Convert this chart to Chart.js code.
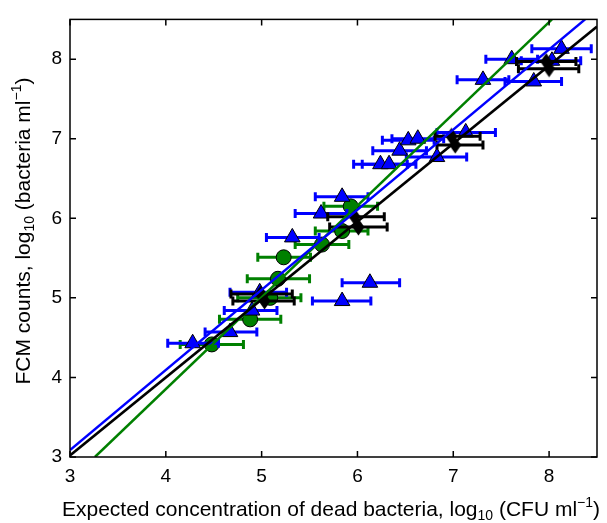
<!DOCTYPE html>
<html>
<head>
<meta charset="utf-8">
<script src="https://cdn.jsdelivr.net/npm/chart.js@4.4.1/dist/chart.umd.min.js"></script>
<style>
  html, body { margin: 0; padding: 0; background: #fff; }
  #wrap { width: 607px; height: 523px; }
</style>
</head>
<body>
<div id="wrap"><canvas id="fcmChart" width="607" height="523"></canvas></div>
<script>
// blue triangles
const blueX   = [4.28, 4.67, 4.90, 4.98, 5.32, 5.62, 5.84, 5.84, 6.13, 6.24, 6.33, 6.44, 6.53, 6.63, 6.83, 7.13, 7.31, 7.61, 7.84, 8.03, 8.13];
const blueY   = [4.43, 4.57, 4.84, 5.07, 5.76, 6.06, 6.27, 4.96, 5.19, 6.68, 6.68, 6.85, 6.98, 7.00, 6.77, 7.08, 7.74, 8.00, 7.72, 7.98, 8.13];
const blueLo  = [4.02, 4.41, 4.61, 4.67, 5.05, 5.35, 5.56, 5.53, 5.84, 5.96, 6.05, 6.16, 6.26, 6.36, 6.51, 6.83, 7.04, 7.34, 7.54, 7.71, 7.82];
const blueHi  = [4.55, 4.95, 5.16, 5.26, 5.60, 5.89, 6.11, 6.14, 6.44, 6.52, 6.61, 6.72, 6.80, 6.90, 7.14, 7.44, 7.58, 7.88, 8.13, 8.33, 8.44];

// green circles
const greenX  = [4.48, 4.88, 5.09, 5.17, 5.23, 5.63, 5.84, 5.93];
const greenY  = [4.415, 4.73, 5.00, 5.24, 5.51, 5.67, 5.84, 6.15];
const greenLo = [4.15, 4.56, 4.75, 4.85, 4.96, 5.35, 5.56, 5.65];
const greenHi = [4.81, 5.20, 5.41, 5.50, 5.51, 5.91, 6.11, 6.21];

// black diamonds
const blackX  = [4.99, 5.03, 5.97, 6.01, 6.98, 7.02, 7.97, 8.00];
const blackY  = [5.05, 4.96, 6.02, 5.89, 7.03, 6.92, 7.97, 7.88];
const blackLo = [4.68, 4.70, 5.69, 5.71, 6.81, 6.83, 7.66, 7.68];
const blackHi = [5.32, 5.34, 6.28, 6.31, 7.28, 7.31, 8.28, 8.31];

// fitted lines (end points)
const blackFitX = [3, 8.5],   blackFitY = [3.02, 8.41];
const blueFitX  = [3, 8.376], blueFitY  = [3.087, 8.5];
const greenFitX = [3.26, 8.03], greenFitY = [3.0, 8.5];

const tickVals = [3, 4, 5, 6, 7, 8];

const BLUE = '#0000ff';
const GREEN = '#008000';
const BLACK = '#000000';
const FONT = 'Liberation Sans, Arial, Helvetica, sans-serif';

function pts(xs, ys, lo, hi) {
  return xs.map((x, i) => ({ x: x, y: ys[i], xMin: lo ? lo[i] : null, xMax: hi ? hi[i] : null }));
}

// thin diamond marker (narrower than tall)
function thinDiamond() {
  const c = document.createElement('canvas');
  c.width = 13; c.height = 18;
  const g = c.getContext('2d');
  g.fillStyle = BLACK;
  g.beginPath();
  g.moveTo(6.5, 0.5); g.lineTo(12.5, 9); g.lineTo(6.5, 17.5); g.lineTo(0.5, 9);
  g.closePath();
  g.fill();
  return c;
}

// horizontal error bars, drawn just before each dataset's markers
const errorBars = {
  id: 'errorBars',
  beforeDatasetDraw(chart, args) {
    const ds = chart.data.datasets[args.index];
    if (!ds.errColor) return;
    const ctx = chart.ctx;
    const xs = chart.scales.x, ys = chart.scales.y;
    ctx.save();
    ctx.strokeStyle = ds.errColor;
    ctx.lineWidth = 3;
    ds.data.forEach(p => {
      const y = ys.getPixelForValue(p.y);
      const x0 = xs.getPixelForValue(p.xMin);
      const x1 = xs.getPixelForValue(p.xMax);
      ctx.beginPath();
      ctx.moveTo(x0, y); ctx.lineTo(x1, y);
      ctx.moveTo(x0, y - 4.5); ctx.lineTo(x0, y + 4.5);
      ctx.moveTo(x1, y - 4.5); ctx.lineTo(x1, y + 4.5);
      ctx.stroke();
    });
    ctx.restore();
  }
};

// box, inward ticks on all four sides, axis titles with sub/superscripts
const frame = {
  id: 'frame',
  afterDraw(chart) {
    const ctx = chart.ctx;
    const a = chart.chartArea;
    const xs = chart.scales.x, ys = chart.scales.y;
    ctx.save();
    ctx.strokeStyle = '#000';
    ctx.lineWidth = 1.5;
    ctx.strokeRect(a.left, a.top, a.right - a.left, a.bottom - a.top);
    ctx.beginPath();
    tickVals.forEach(v => {
      const px = xs.getPixelForValue(v);
      ctx.moveTo(px, a.bottom); ctx.lineTo(px, a.bottom - 6);
      ctx.moveTo(px, a.top); ctx.lineTo(px, a.top + 6);
      const py = ys.getPixelForValue(v);
      ctx.moveTo(a.left, py); ctx.lineTo(a.left + 6, py);
      ctx.moveTo(a.right, py); ctx.lineTo(a.right - 6, py);
    });
    ctx.stroke();

    drawRich(ctx, [
      ['Expected concentration of dead bacteria, log', 0],
      ['10', 1],
      [' (CFU ml', 0],
      ['\u22121', -1],
      [')', 0]
    ], 331, 510);

    ctx.save();
    ctx.translate(24, 231);
    ctx.rotate(-Math.PI / 2);
    drawRich(ctx, [
      ['FCM counts, log', 0],
      ['10', 1],
      [' (bacteria ml', 0],
      ['\u22121', -1],
      [')', 0]
    ], 0, 0);
    ctx.restore();
    ctx.restore();
  }
};

function drawRich(ctx, parts, cx, cy) {
  const big = '21px ' + FONT, small = '14px ' + FONT;
  let w = 0;
  parts.forEach(p => { ctx.font = p[1] ? small : big; w += ctx.measureText(p[0]).width; });
  let x = cx - w / 2;
  ctx.fillStyle = '#000';
  ctx.textBaseline = 'middle';
  ctx.textAlign = 'left';
  parts.forEach(p => {
    ctx.font = p[1] ? small : big;
    const dy = p[1] === 1 ? 6 : (p[1] === -1 ? -7 : 0);
    ctx.fillText(p[0], x, cy + dy);
    x += ctx.measureText(p[0]).width;
  });
}

const ctx = document.getElementById('fcmChart').getContext('2d');
new Chart(ctx, {
  type: 'scatter',
  data: {
    datasets: [
      { label: 'black fit', type: 'line', data: pts(blackFitX, blackFitY), borderColor: BLACK, borderWidth: 2.5, pointRadius: 0, order: 1 },
      { label: 'blue fit', type: 'line', data: pts(blueFitX, blueFitY), borderColor: BLUE, borderWidth: 2.5, pointRadius: 0, order: 2 },
      { label: 'green fit', type: 'line', data: pts(greenFitX, greenFitY), borderColor: GREEN, borderWidth: 2.5, pointRadius: 0, order: 3 },
      { label: 'black', data: pts(blackX, blackY, blackLo, blackHi), errColor: BLACK, pointStyle: thinDiamond(), pointRadius: 9,
        backgroundColor: BLACK, borderColor: BLACK, borderWidth: 1, order: 4 },
      { label: 'blue', data: pts(blueX, blueY, blueLo, blueHi), errColor: BLUE, pointStyle: 'triangle', pointRadius: 9,
        backgroundColor: BLUE, borderColor: BLACK, borderWidth: 1, order: 5 },
      { label: 'green', data: pts(greenX, greenY, greenLo, greenHi), errColor: GREEN, pointStyle: 'circle', pointRadius: 7.5,
        backgroundColor: GREEN, borderColor: BLACK, borderWidth: 1, order: 6 }
    ]
  },
  options: {
    responsive: false,
    animation: false,
    layout: { padding: { top: 13, right: 10, left: 0, bottom: 0 } },
    plugins: { legend: { display: false }, tooltip: { enabled: false } },
    scales: {
      x: {
        type: 'linear', min: 3, max: 8.5,
        afterFit: s => { s.height = 66; },
        afterBuildTicks: s => { s.ticks = tickVals.map(v => ({ value: v })); },
        grid: { display: false, drawTicks: false },
        border: { display: false },
        ticks: { color: '#000', padding: 8, font: { family: FONT, size: 19 } }
      },
      y: {
        type: 'linear', min: 3, max: 8.5,
        afterFit: s => { s.width = 70; },
        afterBuildTicks: s => { s.ticks = tickVals.map(v => ({ value: v })); },
        grid: { display: false, drawTicks: false },
        border: { display: false },
        ticks: { color: '#000', padding: 8, font: { family: FONT, size: 19 } }
      }
    }
  },
  plugins: [errorBars, frame]
});
</script>
</body>
</html>
